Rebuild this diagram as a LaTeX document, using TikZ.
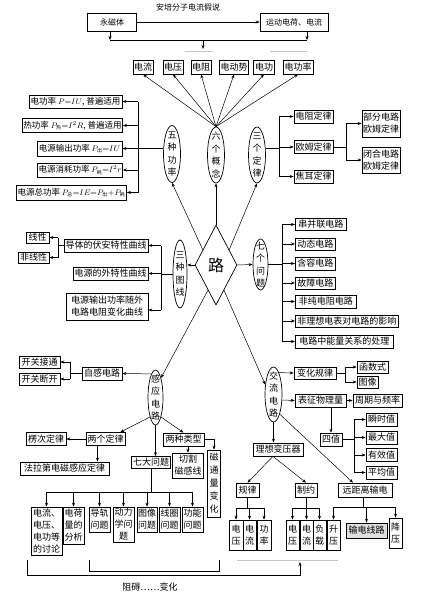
\documentclass[tikz,border=0pt]{standalone}
\usepackage{fontspec}
\newfontfamily\cjk{Noto Sans CJK SC}
\usetikzlibrary{shapes.geometric,arrows.meta,calc}
\newcommand\csub[1]{\mbox{\cjk\fontsize{5}{5}\selectfont #1}}
\begin{document}
\begin{tikzpicture}[x=1pt,y=-1pt,
  every node/.style={font=\cjk\fontsize{9}{12}\selectfont, inner sep=1pt},
  box/.style={draw, line width=0.7pt, align=center},
  ell/.style={draw, ellipse, line width=0.7pt, inner sep=0pt},
  etxt/.style={align=center, inner sep=0pt, font=\cjk\fontsize{9}{12.5}\selectfont},
  arr/.style={-{Stealth[length=4pt,width=3pt]}, line width=0.5pt},
  ln/.style={line width=0.5pt},
  small/.style={font=\cjk\fontsize{8}{10}\selectfont},
  form/.style={font=\cjk\fontsize{8.5}{10}\selectfont}
]
\useasboundingbox (0,0) rectangle (425,600);
\fill[white] (0,0) rectangle (425,600);

% ---------- top ----------
\node[small] (ttl) at (188,7) {安培分子电流假说};
\node[box,small,line width=0.5pt,minimum width=49,minimum height=18] (ycj) at (112,22) {永磁体};
\node[box,small,line width=0.5pt,minimum width=68,minimum height=18] (ydd) at (294,22) {运动电荷、电流};
\draw[arr] (ycj) -- (ydd);
\coordinate (jt) at (203,40);
\draw[arr] ([xshift=-2pt]ycj.south) -- ([xshift=-2pt]ycj.south |- jt);
\draw[arr] ([xshift=13pt]ydd.south) -- ([xshift=13pt]ydd.south |- jt);
\draw[ln] ([xshift=-2pt]ycj.south |- jt) -- ([xshift=13pt]ydd.south |- jt);
\draw[arr] (jt) -- ++(0,9);
\draw[gray!45] (185,51) -- (213,51) (270,51) -- (307,51);

% ---------- six concepts ----------
\node[box,minimum width=20,minimum height=14] (c1) at (143,67) {电流};
\node[box,minimum width=20,minimum height=14] (c2) at (173,67) {电压};
\node[box,minimum width=20,minimum height=14] (c3) at (201,67) {电阻};
\node[box,minimum width=29,minimum height=14] (c4) at (234,67) {电动势};
\node[box,minimum width=21,minimum height=14] (c5) at (264,67) {电功};
\node[box,minimum width=30,minimum height=14] (c6) at (298,67) {电功率};

\node[ell,minimum width=17,minimum height=57] (e5) at (172,154) {};
\node[etxt] (e5t) at (e5) {五\\种\\功\\率};
\node[ell,minimum width=17,minimum height=56] (e6) at (216,155) {};
\node[etxt] (e6t) at (e6) {六\\个\\概\\念};
\node[ell,minimum width=17,minimum height=56] (e3) at (257,155) {};
\node[etxt] (e3t) at (e3) {三\\个\\定\\律};

\foreach \c in {c1,c2,c3,c4,c5,c6} \draw[arr] (e6.north) -- (\c.south);

% ---------- five powers ----------
\node[box,form,minimum width=93,minimum height=13] (p1) at (75.5,101.5) {电功率 $P{=}IU$, 普遍适用};
\node[box,form,minimum width=99,minimum height=14] (p2) at (72.5,125.5) {热功率 $P_{\csub{热}}{=}I^2R$, 普遍适用};
\node[box,form,minimum width=85,minimum height=15] (p3) at (79.5,148.5) {电源输出功率 $P_{\csub{出}}{=}IU$};
\node[box,form,minimum width=84,minimum height=14] (p4) at (80,170) {电源消耗功率 $P_{\csub{耗}}{=}I^2r$};
\node[box,form,minimum width=103,minimum height=15] (p5) at (71.5,192.5) {电源总功率 $P_{\csub{总}}{=}IE{=}P_{\csub{出}}{+}P_{\csub{耗}}$};
\coordinate (jp) at (138,148);
\draw[ln] (jp |- p1.east) -- (jp |- p5.east);
\draw[ln] ([yshift=6pt]e5.west) -- (jp);
\foreach \p in {p1,p2,p3,p4,p5} \draw[arr] (jp |- \p.east) -- (\p.east);

% ---------- three laws ----------
\node[box,minimum width=39,minimum height=13] (d1) at (313.5,116.5) {电阻定律};
\node[box,minimum width=39,minimum height=13] (d2) at (313.5,147) {欧姆定律};
\node[box,minimum width=39,minimum height=13] (d3) at (313.5,176.5) {焦耳定律};
\coordinate (jd) at (279,148);
\draw[ln] ([yshift=7pt]e3.east) -- (jd);
\draw[ln] (jd |- d1.west) -- (jd |- d3.west);
\foreach \p in {d1,d2,d3} \draw[arr] (jd |- \p.west) -- (\p.west);
\node[box,minimum width=38,minimum height=27] (o1) at (381,123.5) {部分电路\\欧姆定律};
\node[box,minimum width=38,minimum height=26] (o2) at (381,160) {闭合电路\\欧姆定律};
\coordinate (jo) at (346,147);
\draw[ln] (d2.east) -- (jo);
\draw[ln] (jo |- o1.west) -- (jo |- o2.west);
\foreach \p in {o1,o2} \draw[arr] (jo |- \p.west) -- (\p.west);

% ---------- diamond ----------
\node[draw,diamond,line width=0.7pt,minimum width=42,minimum height=80,inner sep=0pt,shape aspect=0.525,font=\cjk\fontsize{16}{16}\selectfont] (d) at (216,265) {路};
\draw[arr] ($(d.north)!0.62!(d.west)$) -- (e5.south);
\draw[arr] (d.north) -- (e6.south);
\draw[arr] ($(d.north)!0.62!(d.east)$) -- (e3.south);

% ---------- three graphs ----------
\node[ell,minimum width=14,minimum height=68] (g) at (180,274) {};
\node[etxt] (gt) at (g) {三\\种\\图\\线};
\draw[arr] (d.west) -- (d.west -| g.east);
\node[box,minimum width=84,minimum height=13] (g1) at (106,245.5) {导体的伏安特性曲线};
\node[box,minimum width=75,minimum height=13] (g2) at (110.5,273.5) {电源的外特性曲线};
\node[box,minimum width=82,minimum height=27] (g3) at (107,306.5) {电源输出功率随外\\电路电阻变化曲线};
\coordinate (jg) at (161,274);
\draw[ln] (g.west) -- (jg);
\draw[ln] (jg |- g1.east) -- (161,310);
\draw[arr] (jg |- g1.east) -- (g1.east);
\draw[arr] (jg |- g2.east) -- (g2.east);
\draw[arr] (161,310) -- ([yshift=-3.5pt]g3.east);
\node[box,minimum width=23,minimum height=11] (l1) at (37.5,237.5) {线性};
\node[box,minimum width=31,minimum height=11] (l2) at (33.5,257.5) {非线性};
\coordinate (jl1) at (58,245.5);
\draw[ln] (g1.west) -- (jl1);
\draw[ln] (jl1 |- l1.east) -- (jl1 |- l2.east);
\foreach \p in {l1,l2} \draw[arr] (jl1 |- \p.east) -- (\p.east);

% ---------- seven problems ----------
\node[ell,minimum width=15,minimum height=51] (q) at (260.5,264.5) {};
\node[etxt] (qt) at (q) {七\\个\\问\\题};
\draw[arr] (d.east) -- (q.west);
\node[box,anchor=west,minimum width=51,minimum height=12] (s1) at (295,224.5) {串并联电路};
\node[box,anchor=west,minimum width=40,minimum height=12] (s2) at (295,244) {动态电路};
\node[box,anchor=west,minimum width=40,minimum height=13] (s3) at (295,263.5) {含容电路};
\node[box,anchor=west,minimum width=40,minimum height=12] (s4) at (295,283) {故障电路};
\node[box,anchor=west,minimum width=61,minimum height=13] (s5) at (295,301.5) {非纯电阻电路};
\node[box,anchor=west,minimum width=103,minimum height=12] (s6) at (295,321) {非理想电表对电路的影响};
\node[box,anchor=west,minimum width=98,minimum height=13] (s7) at (295,341.5) {电路中能量关系的处理};
\coordinate (js) at (282,264.5);
\draw[ln] (q.east) -- (js);
\draw[ln] (js |- s1.west) -- (js |- s7.west);
\foreach \p in {s1,s2,s3,s4,s5,s6,s7} \draw[arr] (js |- \p.west) -- (\p.west);

% ---------- induction circuits ----------
\node[ell,minimum width=15,minimum height=55] (ga) at (155.5,397.5) {};
\node[etxt] (gat) at (ga) {感\\应\\电\\路};
\draw[arr] ($(d.south)!0.375!(d.west)$) -- (ga.north east);
\node[box,minimum width=40,minimum height=13] (zg) at (102,373.5) {自感电路};
\draw[arr] (ga.100) -- (zg.east);
\node[box,minimum width=41,minimum height=12] (k1) at (39.5,362) {开关接通};
\node[box,minimum width=41,minimum height=12] (k2) at (39.5,379) {开关断开};
\coordinate (jk) at (70,373.5);
\draw[ln] (zg.west) -- (jk);
\draw[ln] (jk |- k1.east) -- (jk |- k2.east);
\foreach \p in {k1,k2} \draw[arr] (jk |- \p.east) -- (\p.east);

\node[box,minimum width=39,minimum height=13] (ld) at (105.5,439) {两个定律};
\node[box,minimum width=40,minimum height=13] (lc) at (46,439) {楞次定律};
\node[box,minimum width=41,minimum height=13] (lx) at (183.5,439.5) {两种类型};
\draw[arr] (ga.254) -- ([xshift=-5pt]ld.north east);
\draw[arr] (ga.286) -- (lx.north);
\draw[arr] (ld.west) -- (lc.east);
\node[box,minimum width=89,minimum height=13] (fl) at (64.5,468.5) {法拉第电磁感应定律};
\draw[arr] ([xshift=-8pt]ld.south) -- ([xshift=-8pt]ld.south |- fl.north);
\node[box,minimum width=39,minimum height=12] (qd) at (151,462.5) {七大问题};
\draw[arr] (ga.south) -- (ga.south |- qd.north);
\node[box,minimum width=31,minimum height=25] (qg) at (188,465.5) {切割\\磁感线};
\node[box,minimum width=13,minimum height=67,font=\cjk\fontsize{9}{13}\selectfont] (ct) at (214,483.5) {磁\\通\\量\\变\\化};
\draw[arr] (lx.south -| qg.north) -- (qg.north);
\draw[arr] (lx.east) -| (ct.north);

\node[box,minimum width=31,minimum height=48] (b1) at (46.5,531) {电流、\\电压、\\电功等\\的讨论};
\node[box,minimum width=21,minimum height=37] (b2) at (73.5,525.5) {电荷\\量的\\分析};
\node[box,minimum width=21,minimum height=25] (b3) at (99.5,519.5) {导轨\\问题};
\node[box,minimum width=21,minimum height=35] (b4) at (123.5,524.5) {动力\\学问\\题};
\node[box,minimum width=20,minimum height=25] (b5) at (147,519.5) {图像\\问题};
\node[box,minimum width=21,minimum height=25] (b6) at (169.5,519.5) {线圈\\问题};
\node[box,minimum width=21,minimum height=25] (b7) at (192.5,519.5) {功能\\问题};
\coordinate (jb) at (151,492);
\draw[ln] (qd.south) -- (qd.south |- jb);
\draw[ln] (b1.north |- jb) -- (b7.north |- jb);
\foreach \p in {b1,b2,b3,b4,b5,b6,b7} \draw[arr] (\p.north |- jb) -- (\p.north);

% ---------- bottom brackets ----------
\coordinate (br1) at (27,560);
\coordinate (br2) at (300,562);
\draw[arr] (br1) -- (27,575) -- (300,575) -- (br2);
\draw[ln] (89,560) -- (89,571) -- (219,571) -- (219,560);
\draw[gray!45] (237,560) -- (338,560);
\node (zh) at (150,587) {阻碍……变化};

% ---------- AC circuits ----------
\node[ell,minimum width=17,minimum height=55] (jl) at (273.5,394.5) {};
\node[etxt] (jlt) at (jl) {交\\流\\电\\路};
\draw[arr] ($(d.south)!0.375!(d.east)$) -- (jl.130);
\node[box,minimum width=42,minimum height=12] (bh) at (315,373) {变化规律};
\draw[arr] (jl.76) -- (bh.west);
\node[box,minimum width=31,minimum height=12] (hs) at (372.5,367) {函数式};
\node[box,minimum width=21,minimum height=12] (tx) at (367.5,382) {图像};
\coordinate (jh) at (345,373);
\draw[ln] (bh.east) -- (jh);
\draw[ln] (jh |- hs.west) -- (jh |- tx.west);
\foreach \p in {hs,tx} \draw[arr] (jh |- \p.west) -- (\p.west);
\node[box,minimum width=51,minimum height=13] (bz) at (320.5,400.5) {表征物理量};
\draw[arr] ([yshift=-5.5pt]jl.east) -- (bz.west);
\node[box,minimum width=49,minimum height=13] (zq) at (377.5,400.5) {周期与频率};
\draw[arr] (bz.east) -- (zq.west);
\node[box,minimum width=22,minimum height=13] (sz) at (331,439.5) {四值};
\draw[arr] (sz.north |- bz.south) -- (sz.north);
\node[box,minimum width=31,minimum height=13] (v1) at (381.5,419.5) {瞬时值};
\node[box,minimum width=31,minimum height=13] (v2) at (381.5,437.5) {最大值};
\node[box,minimum width=31,minimum height=13] (v3) at (381.5,455) {有效值};
\node[box,minimum width=31,minimum height=13] (v4) at (381.5,472.5) {平均值};
\coordinate (jv) at (354,439.5);
\draw[ln] (sz.east) -- (jv);
\draw[ln] (jv |- v1.west) -- (jv |- v4.west);
\foreach \p in {v1,v2,v3,v4} \draw[arr] (jv |- \p.west) -- (\p.west);

\node[box,minimum width=50,minimum height=13] (lb) at (278,449.5) {理想变压器};
\draw[arr] (jl.south) -- (jl.south |- lb.north);
\node[box,minimum width=54,minimum height=14] (yj) at (365,490) {远距离输电};
\draw[arr] (jl.south east) -- ([xshift=-12pt]yj.north);
\node[box,minimum width=23,minimum height=14] (gl) at (247.5,490) {规律};
\node[box,minimum width=22,minimum height=14] (zy) at (306,490) {制约};
\draw[arr] ([xshift=-5pt]lb.south) -- (gl.north);
\draw[arr] ([xshift=-5pt]lb.south) -- (zy.north);

\node[box,minimum width=14,minimum height=30] (u1) at (236,535) {电\\压};
\node[box,minimum width=13,minimum height=30] (u2) at (249.5,535) {电\\流};
\node[box,minimum width=14,minimum height=30] (u3) at (264,535) {功\\率};
\coordinate (ju) at (247.5,508);
\draw[ln] (gl.south) -- (ju);
\draw[ln] (u1.north |- ju) -- (u3.north |- ju);
\foreach \p in {u1,u2,u3} \draw[arr] (\p.north |- ju) -- (\p.north);

\node[box,minimum width=13,minimum height=30] (w1) at (292.5,535) {电\\压};
\node[box,minimum width=13,minimum height=30] (w2) at (306.5,535) {电\\流};
\node[box,minimum width=13,minimum height=30] (w3) at (319.5,535) {负\\载};
\coordinate (jw) at (306,508);
\draw[ln] (zy.south) -- (jw);
\draw[ln] (w1.north |- jw) -- (w3.north |- jw);
\foreach \p in {w1,w2,w3} \draw[arr] (\p.north |- jw) -- (\p.north);

\node[box,minimum width=13,minimum height=30] (y1) at (333.5,535) {升\\压};
\node[box,minimum width=41,minimum height=15,fill=gray!25] (y2) at (366.5,530.5) {输电线路};
\node[box,minimum width=13,minimum height=30] (y3) at (395.5,533) {降\\压};
\coordinate (jy) at (363,507);
\draw[ln] ([xshift=-2pt]yj.south) -- (jy);
\draw[ln] (y1.north |- jy) -- (y3.north |- jy);
\foreach \p in {y1,y2,y3} \draw[arr] (\p.north |- jy) -- (\p.north);
\end{tikzpicture}
\end{document}
